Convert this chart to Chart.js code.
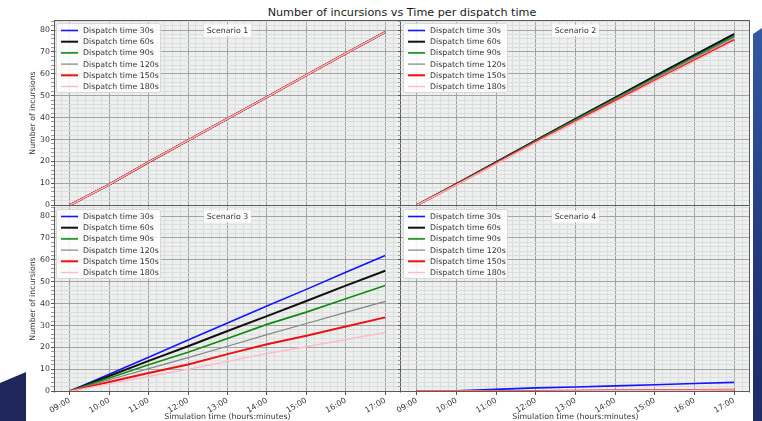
<!DOCTYPE html>
<html>
<head>
<meta charset="utf-8">
<script src="https://cdn.jsdelivr.net/npm/chart.js@4.4.1/dist/chart.umd.min.js"></script>
<style>
  html, body { margin: 0; padding: 0; background: #ffffff; }
  #wrap { position: relative; width: 762px; height: 421px; overflow: hidden; background: #ffffff; }
  #wrap canvas { position: absolute; left: 0; top: 0; }
  #title { position: absolute; left: 0; width: 804px; top: 6px; text-align: center;
           font-family: "DejaVu Sans", sans-serif; font-size: 11.2px; color: #1a1a1a; line-height: 14px; }
  #decoLeft { position: absolute; left: 0; top: 370px; width: 26px; height: 51px; background: #1f2659;
              clip-path: polygon(0 13px, 26px 2px, 26px 51px, 0 51px); }
  #decoRight { position: absolute; left: 753px; top: 28px; width: 9px; height: 393px;
               background: linear-gradient(#3459a3, #23397c 60%, #1c2c66);
               clip-path: polygon(0 6px, 9px 0, 9px 393px, 0 393px); }
</style>
</head>
<body>
<div id="wrap">
  <div id="decoLeft"></div>
  <div id="decoRight"></div>
  <div id="title">Number of incursions vs Time per dispatch time</div>
  <canvas id="c1" width="762" height="421"></canvas>
  <canvas id="c2" width="762" height="421"></canvas>
  <canvas id="c3" width="762" height="421"></canvas>
  <canvas id="c4" width="762" height="421"></canvas>
</div>
<script>
// ---- data (x = minutes since midnight, hourly samples 09:00..17:00) ----
const xMinutes = [540, 600, 660, 720, 780, 840, 900, 960, 1020];
const xTickLabels = ['09:00','10:00','11:00','12:00','13:00','14:00','15:00','16:00','17:00'];
const yTickLabels = [0, 10, 20, 30, 40, 50, 60, 70, 80];
const seriesLabels = ['Dispatch time 30s','Dispatch time 60s','Dispatch time 90s','Dispatch time 120s','Dispatch time 150s','Dispatch time 180s'];
const scenarioNames = ['Scenario 1','Scenario 2','Scenario 3','Scenario 4'];

// Scenario 1
const sc1_30  = [0, 9.4, 19.7, 29.6, 39.5, 49.4, 59.4, 69.3, 79.1];
const sc1_60  = [0, 9.4, 19.7, 29.6, 39.5, 49.4, 59.4, 69.3, 79.1];
const sc1_90  = [0, 9.4, 19.7, 29.6, 39.5, 49.4, 59.4, 69.3, 79.1];
const sc1_120 = [0, 9.4, 19.7, 29.6, 39.5, 49.4, 59.4, 69.3, 79.1];
const sc1_150 = [0, 9.4, 19.7, 29.6, 39.5, 49.4, 59.4, 69.3, 79.1];
const sc1_180 = [0, 9.4, 19.7, 29.6, 39.5, 49.4, 59.4, 69.3, 79.1];
// Scenario 2
const sc2_30  = [0, 9.7, 19.6, 29.6, 39.4, 49.1, 58.9, 68.6, 78.2];
const sc2_60  = [0, 9.7, 19.6, 29.6, 39.4, 49.1, 58.9, 68.6, 78.1];
const sc2_90  = [0, 9.6, 19.4, 29.3, 39.0, 48.6, 58.2, 67.8, 77.2];
const sc2_120 = [0, 9.5, 19.3, 29.1, 38.7, 48.3, 57.8, 67.3, 76.6];
const sc2_150 = [0, 9.4, 19.1, 28.8, 38.2, 47.6, 56.9, 66.2, 75.5];
const sc2_180 = [0, 9.3, 18.9, 28.6, 37.9, 47.2, 56.5, 65.8, 75.0];
// Scenario 3
const sc3_30  = [0, 7.7, 15.5, 23.4, 31.1, 38.9, 46.5, 54.3, 62.0];
const sc3_60  = [0, 6.9, 13.8, 20.5, 27.5, 34.3, 41.2, 48.2, 55.0];
const sc3_90  = [0, 6.0, 12.0, 17.8, 24.1, 30.5, 36.1, 42.2, 48.3];
const sc3_120 = [0, 5.2, 10.3, 15.3, 20.5, 25.8, 30.9, 36.0, 41.0];
const sc3_150 = [0, 4.2, 8.3, 12.2, 16.9, 21.4, 25.3, 29.5, 33.7];
const sc3_180 = [0, 3.3, 6.7, 10.0, 13.6, 17.2, 20.3, 23.6, 26.8];
// Scenario 4
const sc4_30  = [0, 0.2, 0.8, 1.5, 1.9, 2.4, 2.9, 3.5, 4.0];
const sc4_60  = [0, 0, 0, 0, 0, 0, 0.1, 0.2, 0.3];
const sc4_90  = [0, 0, 0, 0, 0, 0, 0.1, 0.2, 0.3];
const sc4_120 = [0, 0, 0, 0.1, 0.2, 0.3, 0.4, 0.5, 0.6];
const sc4_150 = [0, 0, 0, 0.1, 0.2, 0.3, 0.4, 0.5, 0.6];
const sc4_180 = [0, 0, 0, 0, 0.1, 0.2, 0.3, 0.4, 0.5];

// ---- styling ----
const seriesColors = ['#1414ff', '#111111', '#118a11', '#858585', '#ee1111', '#ffbcc6'];
const seriesWidths = [1.6, 2.0, 1.6, 1.2, 2.0, 1.4];
const FONT = '"DejaVu Sans", sans-serif';
const SMALL = 7.8;
const MAJOR_GRID = '#a4a4a4';
const MINOR_GRID = '#dcdede';

function buildDatasets(arrs) {
  return arrs.map((vals, i) => ({
    label: seriesLabels[i],
    data: vals.map((v, k) => ({ x: xMinutes[k], y: v })),
    borderColor: seriesColors[i],
    backgroundColor: seriesColors[i],
    borderWidth: seriesWidths[i],
    pointRadius: 0,
    tension: 0,
    fill: false,
    order: arrs.length - 1 - i   // later series drawn on top, like matplotlib
  }));
}

const panelPlugin = {
  id: 'panelPlugin',
  beforeDraw(chart) {
    const a = chart.chartArea, ctx = chart.ctx;
    ctx.save();
    ctx.fillStyle = '#eef0f0';
    ctx.fillRect(a.left, a.top, a.right - a.left, a.bottom - a.top);
    ctx.restore();
  },
  afterDatasetsDraw(chart) {
    const a = chart.chartArea, ctx = chart.ctx;
    const ds = chart.data.datasets;
    ctx.save();
    const x0 = a.left + 2, y0 = a.top + 3, w = 104, h = 69;
    ctx.beginPath();
    if (ctx.roundRect) ctx.roundRect(x0 + 0.5, y0 + 0.5, w, h, 2); else ctx.rect(x0 + 0.5, y0 + 0.5, w, h);
    ctx.fillStyle = 'rgba(255,255,255,0.85)';
    ctx.fill();
    ctx.strokeStyle = '#d8d8d8';
    ctx.lineWidth = 1;
    ctx.stroke();
    ctx.font = SMALL + 'px ' + FONT;
    ctx.textBaseline = 'middle';
    ctx.textAlign = 'left';
    ds.forEach((d, i) => {
      const y = y0 + 7.5 + i * 11.2;
      ctx.beginPath();
      ctx.moveTo(x0 + 5, y);
      ctx.lineTo(x0 + 22, y);
      ctx.strokeStyle = d.borderColor;
      ctx.lineWidth = d.borderWidth;
      ctx.stroke();
      ctx.fillStyle = '#333333';
      ctx.fillText(d.label, x0 + 27, y + 0.5);
    });
    const name = chart.options.plugins.panelPlugin.name;
    const cx = (a.left + a.right) / 2, cy = a.top + 10.5;
    const tw = ctx.measureText(name).width;
    ctx.fillStyle = 'rgba(255,255,255,0.9)';
    ctx.fillRect(cx - tw / 2 - 3, cy - 6, tw + 6, 12);
    ctx.fillStyle = '#333333';
    ctx.textAlign = 'center';
    ctx.fillText(name, cx, cy + 0.5);
    ctx.restore();
  },
  afterDraw(chart) {
    const a = chart.chartArea, ctx = chart.ctx;
    const o = chart.options.plugins.panelPlugin;
    const L = Math.round(a.left) + 0.5, R = Math.round(a.right) - 0.5;
    const T = Math.round(a.top) + 0.5, B = Math.round(a.bottom) - 0.5;
    ctx.save();
    ctx.strokeStyle = '#5c5c5c';
    ctx.lineWidth = 1;
    ctx.beginPath();
    if (o.isLeft) { ctx.moveTo(L, T); ctx.lineTo(L, B + 1); }
    ctx.moveTo(R, T); ctx.lineTo(R, B + 1);
    if (!o.isBottom) { ctx.moveTo(L - 0.5, T); ctx.lineTo(R + 0.5, T); }
    ctx.moveTo(L - 0.5, B); ctx.lineTo(R + 0.5, B);
    ctx.stroke();
    ctx.restore();
  }
};

function makeChart(id, arrs, name, isLeft, isBottom) {
  const xTicksMinutes = [];
  for (let m = 528; m <= 1032; m += 12) xTicksMinutes.push(m);
  const yTicks = [];
  for (let v = 0; v <= 84; v += 2) yTicks.push(v);

  return new Chart(document.getElementById(id), {
    type: 'line',
    data: { datasets: buildDatasets(arrs) },
    plugins: [panelPlugin],
    options: {
      responsive: false,
      animation: false,
      devicePixelRatio: 1,
      layout: {
        padding: {
          left: isLeft ? 24 : 397,
          right: isLeft ? 361 : 12,
          top: isBottom ? 206 : 20,
          bottom: isBottom ? 0 : 211
        }
      },
      plugins: {
        legend: { display: false },
        tooltip: { enabled: false },
        panelPlugin: { name: name, isLeft: isLeft, isBottom: isBottom }
      },
      scales: {
        x: {
          type: 'linear',
          min: 516,
          max: 1044,
          afterBuildTicks(scale) { scale.ticks = xTicksMinutes.map(v => ({ value: v })); },
          afterFit(scale) { scale.height = isBottom ? 29 : 4; },
          ticks: {
            display: isBottom,
            autoSkip: false,
            maxRotation: 30,
            minRotation: 30,
            padding: 1,
            font: { family: FONT, size: SMALL },
            color: '#333333',
            callback(v) {
              const idx = xMinutes.indexOf(v);
              return idx >= 0 ? xTickLabels[idx] : '';
            }
          },
          grid: {
            color: (c) => (c.tick && c.tick.value % 60 === 0) ? MAJOR_GRID : MINOR_GRID,
            tickColor: (c) => (c.tick && c.tick.value % 60 === 0) ? '#555555' : 'rgba(0,0,0,0)',
            tickLength: 3,
            lineWidth: 1
          },
          border: { display: false },
          title: {
            display: isBottom,
            text: 'Simulation time (hours:minutes)',
            font: { family: FONT, size: SMALL },
            color: '#333333',
            padding: { top: 0, bottom: -1 }
          }
        },
        y: {
          type: 'linear',
          min: -0.4,
          max: 84.6,
          afterBuildTicks(scale) { scale.ticks = yTicks.map(v => ({ value: v })); },
          afterFit(scale) { scale.width = isLeft ? 30 : 4; },
          ticks: {
            display: isLeft,
            autoSkip: false,
            padding: 1,
            font: { family: FONT, size: SMALL },
            color: '#333333',
            callback(v) { return yTickLabels.includes(v) ? String(v) : ''; }
          },
          grid: {
            color: (c) => (c.tick && c.tick.value % 10 === 0) ? MAJOR_GRID : MINOR_GRID,
            tickColor: (c) => (c.tick && c.tick.value % 10 === 0) ? '#555555' : '#9a9a9a',
            tickLength: 3,
            lineWidth: 1
          },
          border: { display: false },
          title: {
            display: isLeft,
            text: 'Number of incursions',
            font: { family: FONT, size: SMALL },
            color: '#333333'
          }
        }
      }
    }
  });
}

makeChart('c1', [sc1_30, sc1_60, sc1_90, sc1_120, sc1_150, sc1_180], scenarioNames[0], true, false);
makeChart('c2', [sc2_30, sc2_60, sc2_90, sc2_120, sc2_150, sc2_180], scenarioNames[1], false, false);
makeChart('c3', [sc3_30, sc3_60, sc3_90, sc3_120, sc3_150, sc3_180], scenarioNames[2], true, true);
makeChart('c4', [sc4_30, sc4_60, sc4_90, sc4_120, sc4_150, sc4_180], scenarioNames[3], false, true);
</script>
</body>
</html>
